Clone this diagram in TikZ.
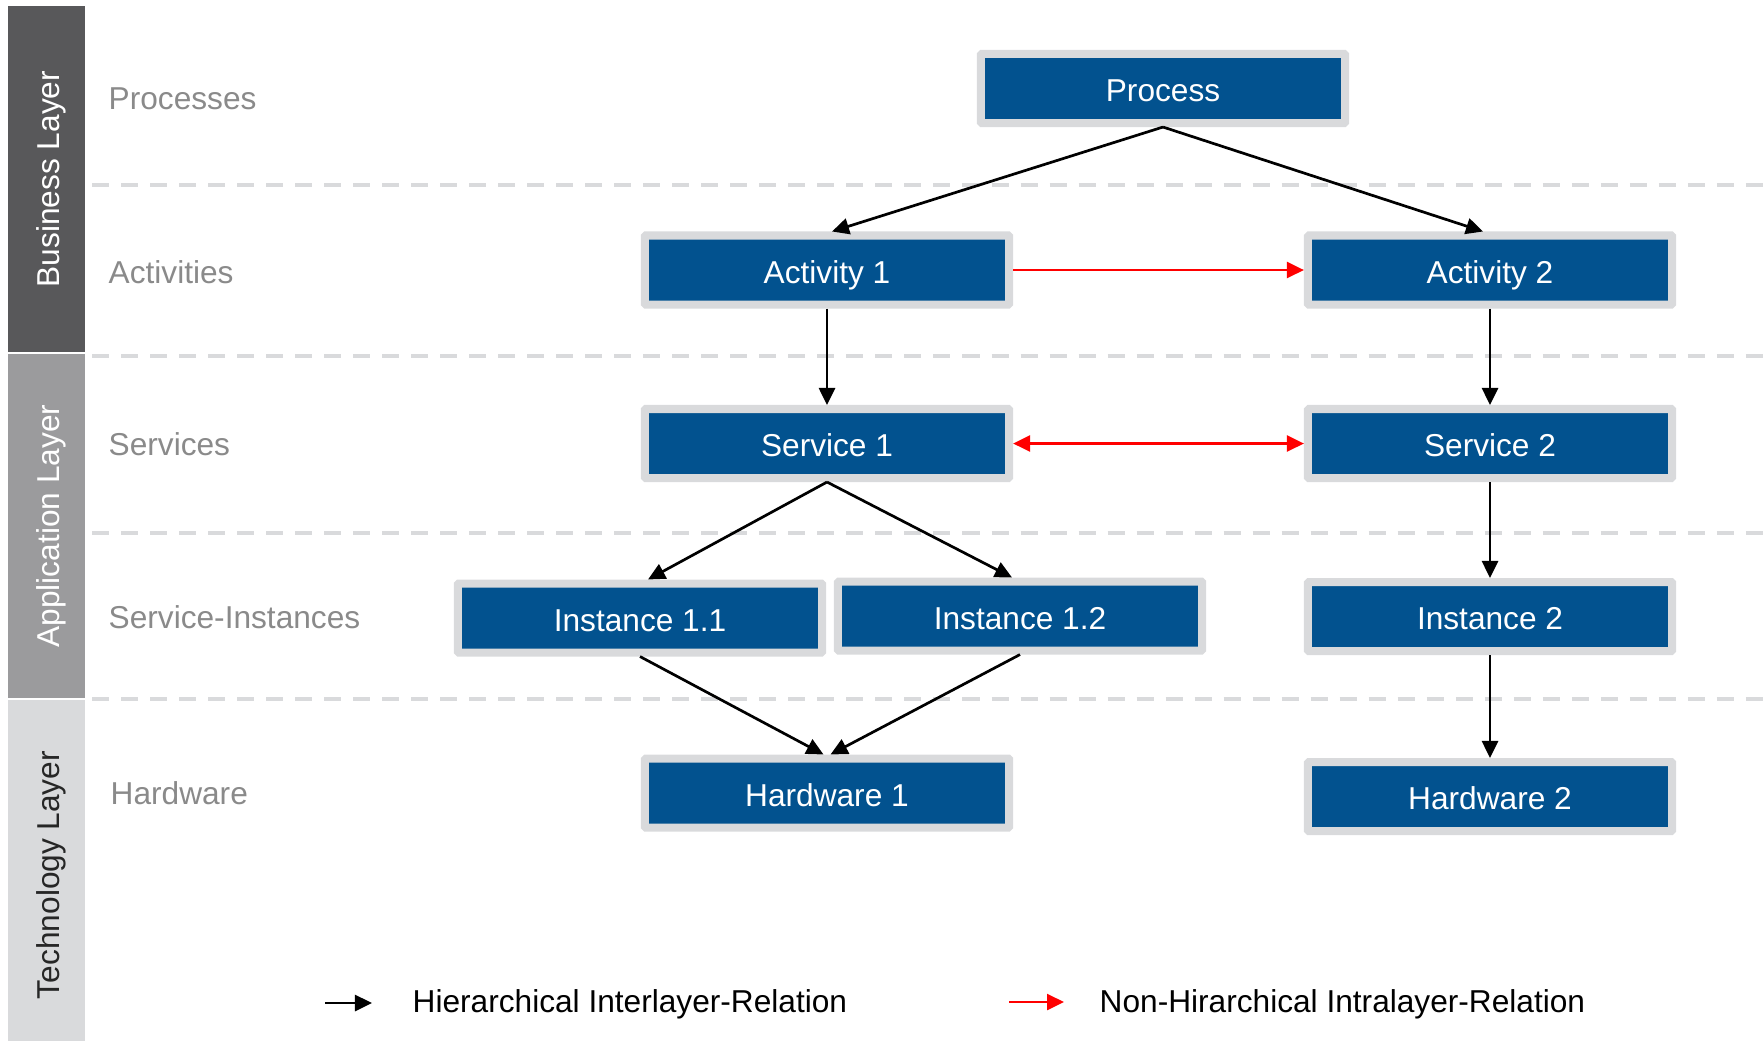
\documentclass[tikz,border=0pt]{standalone}
\usepackage{fontspec}
\setmainfont{Liberation Sans}
\usetikzlibrary{arrows.meta, positioning}
\definecolor{BoxBlue}{HTML}{02528F}
\definecolor{FrameGrey}{HTML}{D9DADC}
\definecolor{BusinessGrey}{HTML}{58585A}
\definecolor{ApplicationGrey}{HTML}{9B9B9D}
\definecolor{TechGrey}{HTML}{D9DADC}
\definecolor{LabelGrey}{HTML}{8A8A8A}
\definecolor{RelRed}{HTML}{FF0000}
\newcommand{\DiagFont}{\fontsize{9pt}{11pt}\selectfont}

\tikzset{
  layerbox/.style={draw=FrameGrey, fill=BoxBlue, line width=0.08cm, rounded corners=0.01cm,
    minimum width=3.64cm, minimum height=0.69cm, inner sep=0pt, text height=0.74em, text depth=0pt,
    text=white, font=\DiagFont},
  rowlabel/.style={anchor=west, inner sep=0pt, text=LabelGrey, font=\DiagFont},
  barlabel/.style={rotate=90, inner sep=0pt, text height=0.74em, text depth=0pt, font=\DiagFont},
  legendtext/.style={anchor=west, inner sep=0pt, text=black, font=\DiagFont},
  tip/.style={-{Triangle[length=0.17cm, width=0.16cm]}},
  hier/.style={draw=black, line width=0.027cm, tip},
  intra/.style={draw=RelRed, line width=0.024cm, tip},
  sepline/.style={draw=FrameGrey, line width=0.04cm, dash pattern=on 0.17cm off 0.12cm},
}

\begin{document}
\begin{tikzpicture}[x=0.01cm, y=-0.01cm]
  \useasboundingbox (0,0) rectangle (1764,1041);
  % layer bars on the left
  \fill[BusinessGrey]    (8,6)   rectangle (85,352);
  \fill[ApplicationGrey] (8,354) rectangle (85,698);
  \fill[TechGrey]        (8,700) rectangle (85,1041);
  \node[barlabel, text=white]    (busLayer) at (46.5,179) {Business Layer};
  \node[barlabel, text=white]    (appLayer) at (46.5,526) {Application Layer};
  \node[barlabel, text=black!85] (techLayer) at (46.5,875) {Technology Layer};
  % row separators
  \foreach \y in {185,356,533,699}
    \draw[sepline] (92,\y) -- (1764,\y);
  % row titles
  \node[rowlabel] (lblProc) at (108,99)  {Processes};
  \node[rowlabel] (lblAct)  at (108,272) {Activities};
  \node[rowlabel] (lblSrv)  at (108,444) {Services};
  \node[rowlabel] (lblInst) at (108,617) {Service-Instances};
  \node[rowlabel] (lblHw)   at (110,793) {Hardware};
  % boxes
  \node[layerbox] (proc)   at (1163,88.5)  {Process};
  \node[layerbox] (act1)   at (827,270)    {Activity 1};
  \node[layerbox] (act2)   at (1490,270)   {Activity 2};
  \node[layerbox] (srv1)   at (827,443.5)  {Service 1};
  \node[layerbox] (srv2)   at (1490,443.5) {Service 2};
  \node[layerbox] (inst11) at (640,618)    {Instance 1.1};
  \node[layerbox] (inst12) at (1020,616)   {Instance 1.2};
  \node[layerbox] (inst2)  at (1490,616.5) {Instance 2};
  \node[layerbox] (hw1)    at (827,793)    {Hardware 1};
  \node[layerbox] (hw2)    at (1490,796.5) {Hardware 2};
  % hierarchical relations
  \draw[hier] (proc.south) -- ([xshift=0.05cm]act1.north);
  \draw[hier] (proc.south) -- ([xshift=-0.07cm]act2.north);
  \draw[hier] (act1) -- (srv1);
  \draw[hier] (act2) -- (srv2);
  \draw[hier] (srv1.south) -- ([xshift=0.08cm]inst11.north);
  \draw[hier] (srv1.south) -- ([xshift=-0.08cm]inst12.north);
  \draw[hier] (srv2) -- (inst2);
  \draw[hier] (inst11.south) -- ([xshift=-0.035cm]hw1.north);
  \draw[hier] (inst12.south) -- ([xshift=0.035cm]hw1.north);
  \draw[hier] (inst2) -- (hw2);
  % intralayer relations
  \draw[intra] (act1) -- (act2);
  \draw[intra, {Triangle[length=0.17cm, width=0.16cm]}-{Triangle[length=0.17cm, width=0.16cm]}] (srv1) -- (srv2);
  % legend
  \coordinate (hierA) at (325,1003);
  \coordinate (hierB) at (372,1003);
  \draw[hier] (hierA) -- (hierB);
  \node[legendtext] (hierText) at (412,1004) {Hierarchical Interlayer-Relation};
  \coordinate (intraA) at (1009,1002);
  \coordinate (intraB) at (1064,1002);
  \draw[intra] (intraA) -- (intraB);
  \node[legendtext] (intraText) at (1099,1004) {Non-Hirarchical Intralayer-Relation};
\end{tikzpicture}
\end{document}
